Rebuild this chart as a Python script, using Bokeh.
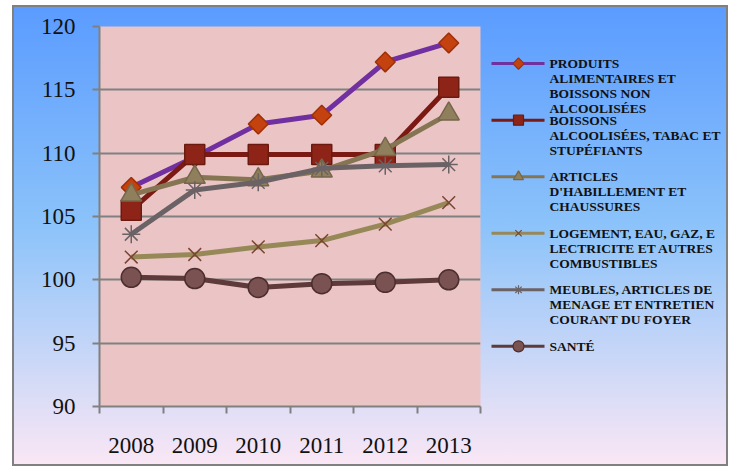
from bokeh.plotting import figure
from bokeh.models import Range1d, FixedTicker
from bokeh.layouts import row
from bokeh.core.properties import value
from bokeh.embed import file_html
from bokeh.resources import INLINE
import numpy as np

years = ["2008", "2009", "2010", "2011", "2012", "2013"]
produits = [107.3, 109.7, 112.3, 113.0, 117.2, 118.7]
boissons = [105.5, 109.9, 109.9, 109.9, 109.9, 115.2]
articles = [106.7, 108.1, 107.9, 108.6, 110.3, 113.1]
logement = [101.8, 102.0, 102.6, 103.1, 104.4, 106.1]
meubles = [103.6, 107.1, 107.7, 108.8, 109.0, 109.1]
sante = [100.2, 100.1, 99.4, 99.7, 99.8, 100.0]
y_ticks = [90, 95, 100, 105, 110, 115, 120]

legend_lines = [
    ["PRODUITS", "ALIMENTAIRES ET", "BOISSONS NON", "ALCOOLISÉES"],
    ["BOISSONS", "ALCOOLISÉES, TABAC ET", "STUPÉFIANTS"],
    ["ARTICLES", "D'HABILLEMENT ET", "CHAUSSURES"],
    ["LOGEMENT, EAU, GAZ, E", "LECTRICITE ET AUTRES", "COMBUSTIBLES"],
    ["MEUBLES, ARTICLES DE", "MENAGE ET ENTRETIEN", "COURANT DU FOYER"],
    ["SANTÉ"],
]

FONT = "Liberation Serif"

series = [produits, boissons, articles, logement, meubles, sante]
styles = [
    dict(line="#7030A0", marker="square", angle=np.pi / 4, fill="#C4420F", mline="#9E3008", size=14, lsize=8),
    dict(line="#7A1A12", marker="square", angle=0, fill="#8E2418", mline="#6B1A10", size=20, lsize=10),
    dict(line="#857553", marker="triangle", angle=0, fill="#8F7F5D", mline="#76674A", size=21, lsize=10),
    dict(line="#978858", marker="x", angle=0, fill="#7A4530", mline="#7A4530", size=18, lsize=9),
    dict(line="#6B6266", marker="asterisk", angle=0, fill="#6B6266", mline="#6B6266", size=18, lsize=9),
    dict(line="#5E3A3A", marker="circle", angle=0, fill="#7B5252", mline="#4D2E2E", size=20, lsize=11),
]

xs = [i + 0.5 for i in range(len(years))]

p = figure(width=475, height=461, x_range=Range1d(0, len(years)), y_range=Range1d(90, 120),
           output_backend="svg", toolbar_location=None,
           min_border_left=87, min_border_right=7, min_border_top=21, min_border_bottom=60)
p.border_fill_color = None
p.background_fill_color = "#EBC4C5"
p.outline_line_color = None
p.xgrid.visible = False
p.ygrid.grid_line_color = "#808080"
p.ygrid.grid_line_width = 2

p.yaxis.ticker = FixedTicker(ticks=y_ticks)
p.yaxis.axis_line_color = "#808080"
p.yaxis.axis_line_width = 2
p.yaxis.major_tick_line_color = "#808080"
p.yaxis.major_tick_line_width = 2
p.yaxis.major_tick_out = 7
p.yaxis.major_tick_in = 0
p.yaxis.minor_tick_line_color = None
p.yaxis.major_label_standoff = 17

p.xaxis.ticker = FixedTicker(ticks=xs, minor_ticks=list(range(len(years) + 1)))
p.xaxis.major_label_overrides = {x: y for x, y in zip(xs, years)}
p.xaxis.axis_line_color = "#808080"
p.xaxis.axis_line_width = 2
p.xaxis.major_tick_line_color = None
p.xaxis.major_tick_out = 0
p.xaxis.major_tick_in = 0
p.xaxis.minor_tick_line_color = "#808080"
p.xaxis.minor_tick_line_width = 2
p.xaxis.minor_tick_out = 7
p.xaxis.minor_tick_in = 0
p.xaxis.major_label_standoff = 24

for ax in (p.xaxis, p.yaxis):
    ax.major_label_text_font = FONT
    ax.major_label_text_font_size = "23px"
    ax.major_label_text_color = "#111111"

for ys, st in zip(series, styles):
    p.line(xs, ys, line_color=st["line"], line_width=5)
    p.scatter(xs, ys, marker=st["marker"], angle=st["angle"], size=st["size"],
              fill_color=st["fill"], line_color=st["mline"], line_width=1.5)

# legend panel
LW, LH = 241, 461
leg = figure(width=LW, height=LH, x_range=Range1d(0, LW), y_range=Range1d(LH, 0),
             output_backend="svg", toolbar_location=None,
             x_axis_type=None, y_axis_type=None,
             min_border_left=0, min_border_right=0, min_border_top=0, min_border_bottom=0)
leg.border_fill_color = None
leg.background_fill_color = None
leg.outline_line_color = None
leg.xgrid.visible = False
leg.ygrid.visible = False

for i, (lines, st) in enumerate(zip(legend_lines, styles)):
    y0 = 45 + i * 68.6
    leg.line([4, 57], [y0, y0], line_color=st["line"], line_width=3)
    leg.scatter([31], [y0], marker=st["marker"], angle=st["angle"], size=st["lsize"],
                fill_color=st["fill"], line_color=st["mline"], line_width=1.2)
    leg.text([62] * len(lines), [y0 + k * 18.2 for k in range(len(lines))], text=lines,
             text_font=value(FONT), text_font_style="bold",
             text_font_size="13.5px", text_color="#111111", text_baseline="middle")

layout = row(p, leg)
layout.margin = (5, 0, 0, 12)
layout.styles = {
    "background": "linear-gradient(180deg, #5a9bff 0%, #8cc3fa 48%, #fbe7f5 100%)",
    "box-shadow": "inset 0 0 0 2px #808080",
}

open("out.html", "w").write(file_html(layout, INLINE))
